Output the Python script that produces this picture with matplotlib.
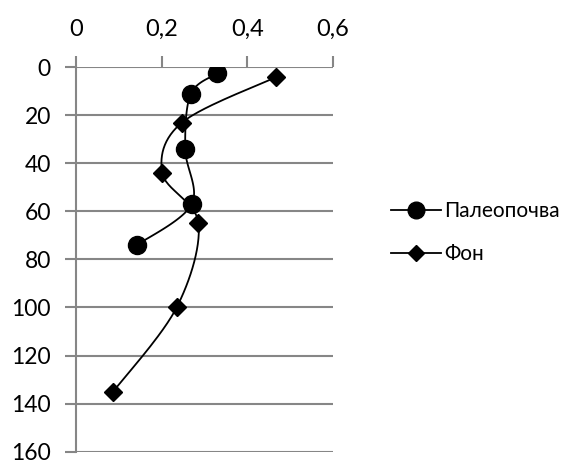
import numpy as np
import matplotlib
matplotlib.use("Agg")
import matplotlib.pyplot as plt

# values
paleo_x = [0.33, 0.268, 0.255, 0.27, 0.142]
paleo_depth = [2.5, 11, 34, 57, 74]
fon_x = [0.467, 0.247, 0.2015, 0.286, 0.235, 0.087]
fon_depth = [4, 23, 44, 65, 100, 135]
x_ticks = [0, 0.2, 0.4, 0.6]
x_labels = ["0", "0,2", "0,4", "0,6"]
y_ticks = [0, 20, 40, 60, 80, 100, 120, 140, 160]

plt.rcParams["font.family"] = ["Lato", "Open Sans", "DejaVu Sans"]
grey = "#868686"


def smooth(ax, xs, ys, n=30):
    # Excel-like smoothed line: Catmull-Rom in screen space
    pts = ax.transData.transform(np.column_stack([xs, ys]))
    p = np.vstack([pts[0], pts, pts[-1]])
    out = []
    for i in range(1, len(p) - 2):
        p0, p1, p2, p3 = p[i - 1], p[i], p[i + 1], p[i + 2]
        c1 = p1 + (p2 - p0) / 6
        c2 = p2 - (p3 - p1) / 6
        t = np.linspace(0, 1, n)[:, None]
        seg = ((1 - t) ** 3) * p1 + 3 * ((1 - t) ** 2) * t * c1 + 3 * (1 - t) * t ** 2 * c2 + t ** 3 * p2
        out.append(seg)
    out = np.vstack(out)
    return ax.transData.inverted().transform(out)


fig = plt.figure(figsize=(5.73, 4.61), dpi=100)
ax = fig.add_axes([0.1326, 0.0206, 0.4485, 0.833])
ax.set_xlim(0, 0.6)
ax.set_ylim(160, 0)

for s in ["right", "bottom", "top"]:
    ax.spines[s].set_visible(False)
ax.spines["left"].set_color(grey)
ax.spines["left"].set_linewidth(1.5)

ax.set_yticks(y_ticks)
ax.yaxis.grid(True, color=grey, linewidth=1.5)
ax.set_axisbelow(True)
ax.tick_params(axis="y", length=8, width=1.5, color=grey, labelsize=16.5, pad=10)

ax.xaxis.tick_top()
ax.set_xticks(x_ticks)
ax.set_xticklabels(x_labels)
ax.tick_params(axis="x", length=8, width=1.5, color=grey, labelsize=17, pad=12)

sp = smooth(ax, paleo_x, paleo_depth)
ax.plot(sp[:, 0], sp[:, 1], color="black", linewidth=1.3)
sf = smooth(ax, fon_x, fon_depth)
ax.plot(sf[:, 0], sf[:, 1], color="black", linewidth=1.3)

ax.plot(paleo_x, paleo_depth, linestyle="none", marker="o", markersize=13,
        color="black")
ax.plot(fon_x, fon_depth, linestyle="none", marker="D", markersize=9,
        color="black")

h1, = ax.plot([], [], color="black", linewidth=1.3, marker="o", markersize=12)
h2, = ax.plot([], [], color="black", linewidth=1.3, marker="D", markersize=8)
fig.legend([h1, h2], ["Палеопочва", "Фон"], loc="center left",
           bbox_to_anchor=(0.649, 0.495), frameon=False, fontsize=15,
           handlelength=2.4, handletextpad=0.15, labelspacing=1.1, numpoints=1)

fig.savefig("out.png", dpi=100)
